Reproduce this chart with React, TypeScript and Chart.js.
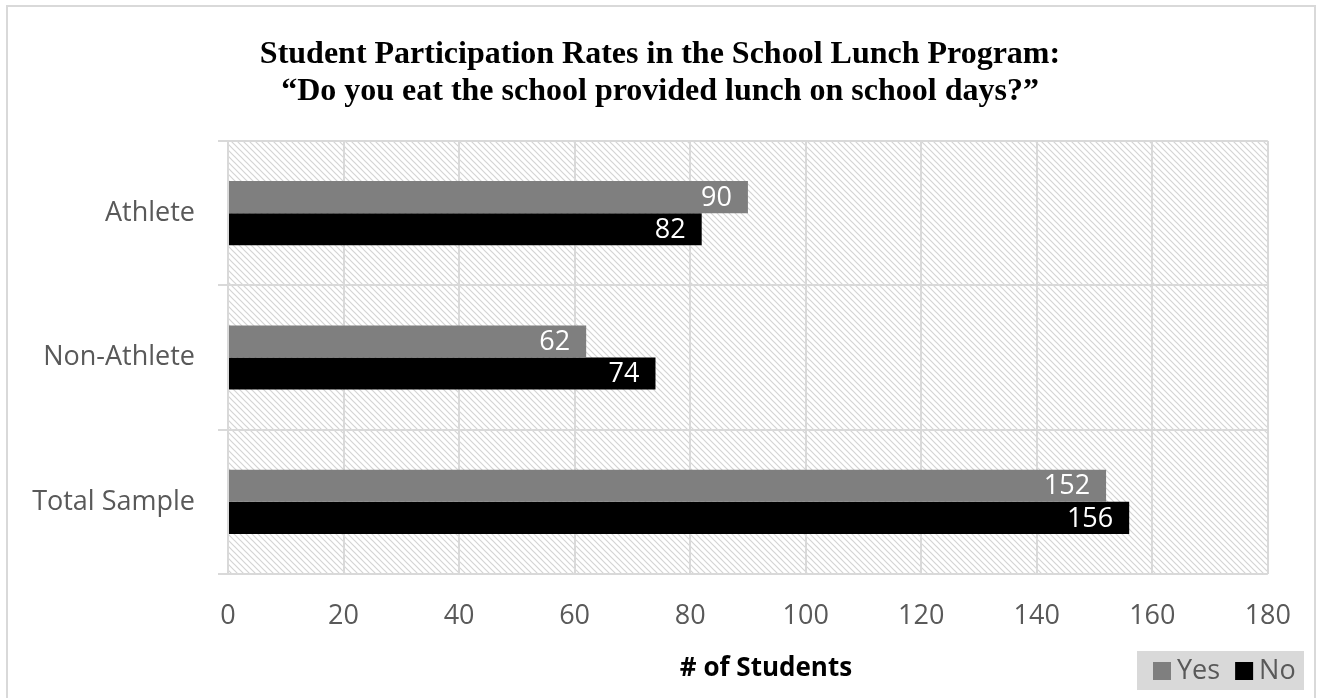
import React, { useEffect, useRef } from "react";
import { Chart, registerables } from "chart.js";

Chart.register(...registerables);

const categories = ["Athlete", "Non-Athlete", "Total Sample"];
const yesValues = [90, 62, 152];
const noValues = [82, 74, 156];
const seriesNames = ["Yes", "No"];
const xTickMin = 0;
const xTickMax = 180;
const xTickStep = 20;
const titleLines = [
  "Student Participation Rates in the School Lunch Program:",
  "\u201cDo you eat the school provided lunch on school days?\u201d",
];
const axisTitle = "# of Students";

const W = 1317;
const H = 698;
const SANS = "'Open Sans', 'Noto Sans', sans-serif";
const SERIF = "'Liberation Serif', 'DejaVu Serif', serif";
const GRID = "#d9d9d9";
const TEXT = "#595959";
const FS = 27;

function makePattern(ctx: CanvasRenderingContext2D) {
  const size = 6;
  const c = document.createElement("canvas");
  c.width = size;
  c.height = size;
  const p = c.getContext("2d")!;
  p.fillStyle = "#ffffff";
  p.fillRect(0, 0, size, size);
  p.strokeStyle = "#d4d4d4";
  p.lineWidth = 1.2;
  p.beginPath();
  p.moveTo(-1, -1);
  p.lineTo(size + 1, size + 1);
  p.moveTo(-1, size - 1);
  p.lineTo(1, size + 1);
  p.moveTo(size - 1, -1);
  p.lineTo(size + 1, 1);
  p.stroke();
  return ctx.createPattern(c, "repeat");
}

const decorPlugin = {
  id: "decor",
  beforeDraw(chart: any) {
    const { ctx, chartArea } = chart;
    ctx.save();
    ctx.fillStyle = "#ffffff";
    ctx.fillRect(0, 0, W, H);
    ctx.strokeStyle = GRID;
    ctx.lineWidth = 2;
    ctx.beginPath();
    ctx.moveTo(7, H + 2);
    ctx.lineTo(7, 6);
    ctx.lineTo(1315, 6);
    ctx.lineTo(1315, H + 2);
    ctx.stroke();
    const pat = makePattern(ctx);
    if (pat) {
      ctx.fillStyle = pat;
      ctx.fillRect(
        chartArea.left,
        chartArea.top,
        chartArea.right - chartArea.left,
        chartArea.bottom - chartArea.top
      );
    }
    ctx.restore();
  },
  afterDraw(chart: any) {
    const { ctx } = chart;
    ctx.save();
    ctx.fillStyle = "#000000";
    ctx.font = `bold 32px ${SERIF}`;
    ctx.textAlign = "center";
    ctx.textBaseline = "alphabetic";
    titleLines.forEach((line, i) => {
      ctx.fillText(line, 660, 63 + i * 37);
    });
    ctx.textBaseline = "middle";
    ctx.font = `bold 26px ${SANS}`;
    ctx.fillStyle = "#000000";
    ctx.fillText(axisTitle, 766, 669);
    const ds = chart.data.datasets;
    ctx.fillStyle = "#d9d9d9";
    ctx.fillRect(1137, 651, 167, 39);
    ctx.font = `${FS}px ${SANS}`;
    ctx.textAlign = "left";
    let x = 1153;
    ds.forEach((d: any) => {
      ctx.fillStyle = d.backgroundColor;
      ctx.fillRect(x, 662, 18, 18);
      ctx.fillStyle = TEXT;
      ctx.fillText(d.label, x + 24, 671);
      x += 24 + ctx.measureText(d.label).width + 15;
    });
    ctx.restore();
  },
  afterDatasetsDraw(chart: any) {
    const { ctx } = chart;
    ctx.save();
    ctx.font = `${FS}px ${SANS}`;
    ctx.fillStyle = "#ffffff";
    ctx.textAlign = "right";
    ctx.textBaseline = "middle";
    chart.data.datasets.forEach((d: any, di: number) => {
      const meta = chart.getDatasetMeta(di);
      meta.data.forEach((el: any, i: number) => {
        ctx.fillText(String(d.data[i]), el.x - 16, el.y + 1);
      });
    });
    ctx.restore();
  },
};

export default function App() {
  const ref = useRef<HTMLCanvasElement>(null);
  useEffect(() => {
    const chart = new Chart(ref.current!, {
      type: "bar",
      data: {
        labels: categories,
        datasets: [
          {
            label: seriesNames[0],
            data: yesValues,
            backgroundColor: "#7f7f7f",
            barPercentage: 1,
            categoryPercentage: 0.444,
          },
          {
            label: seriesNames[1],
            data: noValues,
            backgroundColor: "#000000",
            barPercentage: 1,
            categoryPercentage: 0.444,
          },
        ],
      },
      options: {
        indexAxis: "y",
        responsive: false,
        animation: false,
        layout: { padding: { top: 141, right: 43, left: 0, bottom: 0 } },
        plugins: {
          legend: { display: false },
          title: { display: false },
          tooltip: { enabled: false },
        },
        scales: {
          x: {
            min: xTickMin,
            max: xTickMax,
            ticks: {
              stepSize: xTickStep,
              color: TEXT,
              font: { family: SANS, size: FS },
              padding: 26,
            },
            grid: { color: GRID, lineWidth: 2, drawTicks: false },
            border: { display: false },
            afterFit(scale: any) {
              scale.height = 124;
            },
          },
          y: {
            ticks: {
              color: TEXT,
              font: { family: SANS, size: FS },
              padding: 23,
            },
            grid: {
              color: GRID,
              lineWidth: 2,
              drawTicks: true,
              tickLength: 10,
              offset: true,
            },
            border: { display: true, color: GRID, width: 2 },
            afterFit(scale: any) {
              scale.width = 228;
            },
          },
        },
      },
      plugins: [decorPlugin],
    });
    return () => chart.destroy();
  }, []);
  return (
    <div style={{ position: "fixed", left: 0, top: 0, width: W, height: H }}>
      <canvas ref={ref} width={W} height={H} style={{ display: "block" }} />
    </div>
  );
}
